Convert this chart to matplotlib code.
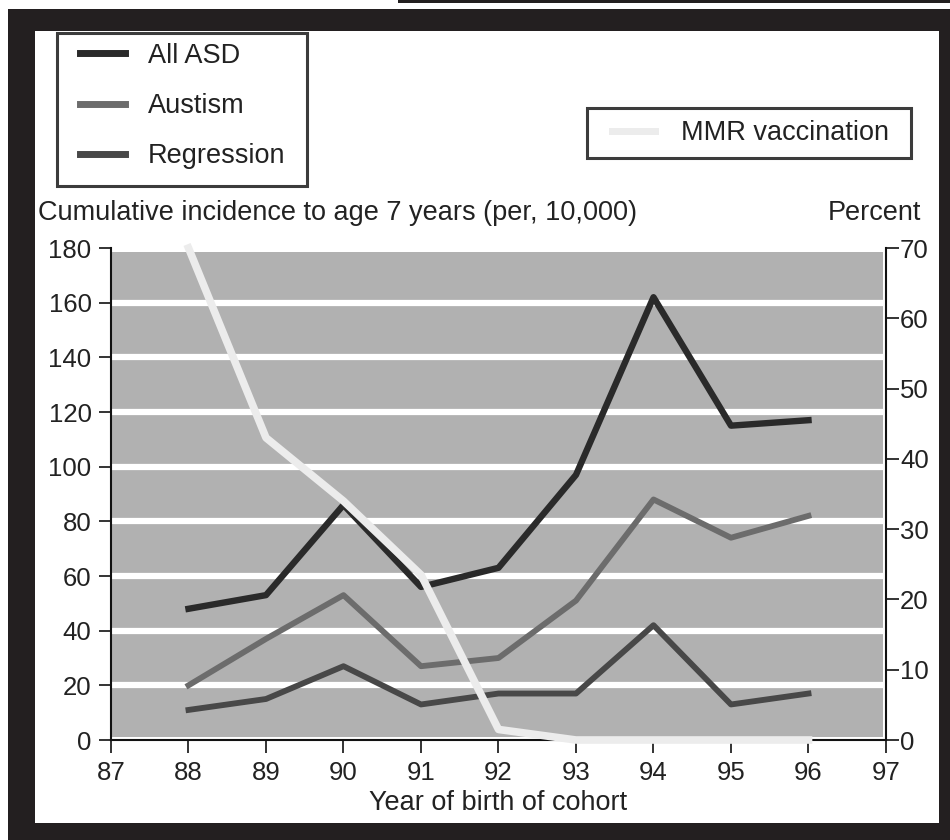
import matplotlib
matplotlib.use("Agg")
import matplotlib.pyplot as plt
from matplotlib.patches import Rectangle
from matplotlib.lines import Line2D

plt.rcParams['font.family'] = ['Liberation Sans', 'DejaVu Sans']

years = [88, 89, 90, 91, 92, 93, 94, 95, 96]
all_asd = [48, 53, 86, 56, 63, 97, 162, 115, 117]
autism = [20, 37, 53, 27, 30, 51, 88, 74, 82]
regression = [11, 15, 27, 13, 17, 17, 42, 13, 17]
mmr = [70, 43, 34, 23.5, 1.5, 0, 0, 0, 0]

xticks = list(range(87, 98))
yticks_left = list(range(0, 181, 20))
yticks_right = list(range(0, 71, 10))

W, H = 950, 840
fig = plt.figure(figsize=(W / 100, H / 100), dpi=100)
fig.patch.set_facecolor('white')


def fx(px):
    return px / W


def fy(py):
    return 1 - py / H


dark = '#231f20'
fig.patches.append(Rectangle((fx(8), 0), 1 - fx(8), fy(9), transform=fig.transFigure,
                             facecolor=dark, edgecolor='none', zorder=-10))
fig.patches.append(Rectangle((fx(35), fy(823)), fx(939 - 35), (823 - 31) / H,
                             transform=fig.transFigure, facecolor='white', edgecolor='none', zorder=-9))
fig.patches.append(Rectangle((fx(398), fy(3)), 1 - fx(398), 3 / H, transform=fig.transFigure,
                             facecolor=dark, edgecolor='none', zorder=-9))

ax = fig.add_axes([fx(111), fy(740), fx(886 - 111), (740 - 248) / H])
ax.set_facecolor('white')
ax.set_xlim(87, 97)
ax.set_ylim(0, 180)

ax.axhspan(1, 178.5, xmin=0, xmax=0.996, facecolor='#b1b1b1', edgecolor='none', zorder=0)
for yv in yticks_left[1:-1]:
    ax.axhline(yv, xmin=0, xmax=0.996, color='white', lw=4.5, zorder=0.5)

c_asd, c_aut, c_reg, c_mmr = '#2a2a2a', '#6c6c6c', '#484848', '#ececec'
ax.plot(years, all_asd, color=c_asd, lw=4.6, zorder=2)
ax.plot(years, autism, color=c_aut, lw=4.2, zorder=2)
ax.plot(years, regression, color=c_reg, lw=4.2, zorder=2)

for s in ['top', 'right']:
    ax.spines[s].set_visible(False)
for s in ['left', 'bottom']:
    ax.spines[s].set_linewidth(1.5)
    ax.spines[s].set_color('#111111')

ax.set_xticks(xticks)
ax.set_xticklabels([str(x) for x in xticks])
ax.set_yticks(yticks_left)
ax.tick_params(axis='both', direction='out', length=9, width=1.2, colors='#111111',
               labelsize=18.5, labelcolor='#222222')
ax.tick_params(axis='y', pad=5)
ax.tick_params(axis='x', pad=6)

ax2 = ax.twinx()
ax2.set_ylim(0, 70)
ax2.set_yticks(yticks_right)
ax2.patch.set_visible(False)
for s in ['top', 'left', 'bottom']:
    ax2.spines[s].set_visible(False)
ax2.spines['right'].set_linewidth(1.5)
ax2.spines['right'].set_color('#111111')
ax2.tick_params(axis='y', direction='out', length=9, width=1.2, colors='#111111',
                labelsize=18.5, labelcolor='#222222', pad=1)
ax2.plot(years, mmr, color=c_mmr, lw=5.5, zorder=5, clip_on=False)

ax.set_xlabel('Year of birth of cohort', fontsize=19.5, color='#222222', labelpad=4)

fig.text(fx(38), fy(213), 'Cumulative incidence to age 7 years (per, 10,000)',
         fontsize=19.5, color='#222222', ha='left', va='center')
fig.text(fx(921), fy(213), 'Percent', fontsize=19.5, color='#222222', ha='right', va='center')

# legend frames
fig.patches.append(Rectangle((fx(57), fy(186)), fx(307 - 57), (186 - 33) / H, transform=fig.transFigure,
                             facecolor='white', edgecolor='#3c3c3c', lw=2.2, zorder=1))
fig.patches.append(Rectangle((fx(587), fy(158)), fx(911 - 587), (158 - 108) / H, transform=fig.transFigure,
                             facecolor='white', edgecolor='#3c3c3c', lw=2.2, zorder=1))

h1 = [Line2D([], [], color=c_asd, lw=5), Line2D([], [], color=c_aut, lw=5),
      Line2D([], [], color=c_reg, lw=5)]
leg1 = fig.legend(h1, ['All ASD', 'Austism', 'Regression'], loc='center left',
                  bbox_to_anchor=(fx(80), fy(106)), borderaxespad=0, borderpad=0, fontsize=19.5,
                  frameon=False, handlelength=1.67, handletextpad=0.85, labelspacing=0.9)
for t in leg1.get_texts():
    t.set_color('#222222')

h2 = [Line2D([], [], color=c_mmr, lw=5)]
leg2 = fig.legend(h2, ['MMR vaccination'], loc='center left',
                  bbox_to_anchor=(fx(612), fy(133)), borderaxespad=0, borderpad=0, fontsize=19.5,
                  frameon=False, handlelength=1.6, handletextpad=0.93)
for t in leg2.get_texts():
    t.set_color('#222222')

fig.savefig('out.png', dpi=100)
